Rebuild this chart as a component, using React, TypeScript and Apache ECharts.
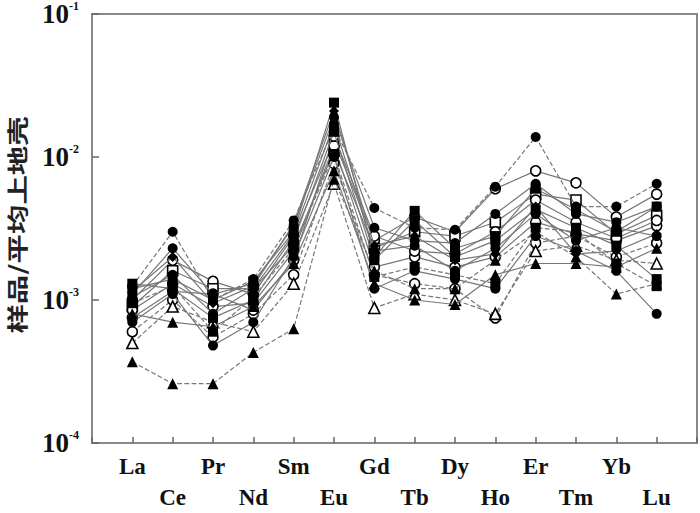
import React, { useEffect, useRef } from "react";
import * as echarts from "echarts";

const categories = ["La", "Ce", "Pr", "Nd", "Sm", "Eu", "Gd", "Tb", "Dy", "Ho", "Er", "Tm", "Yb", "Lu"];
const yTicks = [0.0001, 0.001, 0.01, 0.1];
const yAxisTitle = "样品/平均上地壳";

// sample / average upper crust values (La..Lu)
const s1 = [1.25e-3, 3.0e-3, 1.0e-3, 1.4e-3, 3.6e-3, 1.6e-2, 4.4e-3, 3.2e-3, 3.1e-3, 6.2e-3, 1.38e-2, 4.5e-3, 4.5e-3, 6.5e-3];
const s2 = [1.1e-3, 2.3e-3, 1.1e-3, 1.3e-3, 3.3e-3, 1.9e-2, 3.2e-3, 2.6e-3, 2.5e-3, 4.0e-3, 6.5e-3, 4.0e-3, 3.5e-3, 4.5e-3];
const s3 = [1.2e-3, 1.4e-3, 1.0e-3, 1.35e-3, 3.0e-3, 2.4e-2, 2.0e-3, 4.2e-3, 2.3e-3, 2.8e-3, 6.0e-3, 4.3e-3, 3.0e-3, 4.5e-3];
const s4 = [1.0e-3, 1.9e-3, 1.35e-3, 1.1e-3, 2.8e-3, 1.3e-2, 2.6e-3, 3.8e-3, 3.0e-3, 6.0e-3, 8.0e-3, 6.6e-3, 3.8e-3, 5.5e-3];
const s5 = [9.0e-4, 1.6e-3, 1.2e-3, 1.2e-3, 2.4e-3, 1.1e-2, 2.3e-3, 3.0e-3, 2.8e-3, 3.5e-3, 5.5e-3, 5.0e-3, 2.9e-3, 3.9e-3];
const s6 = [8.0e-4, 7.0e-4, 6.5e-4, 9.0e-4, 1.8e-3, 8.0e-3, 1.3e-3, 1.0e-3, 9.3e-4, 1.5e-3, 1.8e-3, 1.8e-3, 1.7e-3, 2.3e-3];
const s7 = [3.7e-4, 2.6e-4, 2.6e-4, 4.3e-4, 6.3e-4, 7.0e-3, 1.6e-3, 1.2e-3, 1.2e-3, 1.9e-3, 3.0e-3, 2.0e-3, 1.1e-3, 1.3e-3];
const s8 = [6.0e-4, 1.0e-3, 5.5e-4, 8.0e-4, 1.5e-3, 9.0e-3, 1.5e-3, 1.3e-3, 1.2e-3, 7.5e-4, 2.5e-3, 2.8e-3, 2.0e-3, 2.5e-3];
const s9 = [7.0e-4, 1.1e-3, 4.8e-4, 7.0e-4, 2.0e-3, 1.0e-2, 1.2e-3, 1.6e-3, 1.4e-3, 1.2e-3, 2.8e-3, 2.2e-3, 1.6e-3, 8.0e-4];
const s10 = [1.3e-3, 1.2e-3, 7.5e-4, 1.0e-3, 2.6e-3, 1.5e-2, 1.9e-3, 3.6e-3, 2.0e-3, 2.6e-3, 4.3e-3, 3.2e-3, 2.4e-3, 1.4e-3];
const s11 = [5.0e-4, 9.0e-4, 7.0e-4, 6.0e-4, 1.3e-3, 6.5e-3, 8.8e-4, 1.1e-3, 1.0e-3, 8.0e-4, 2.2e-3, 2.4e-3, 1.9e-3, 1.8e-3];
const s12 = [8.5e-4, 1.3e-3, 9.0e-4, 9.5e-4, 2.2e-3, 1.2e-2, 1.7e-3, 2.0e-3, 1.7e-3, 2.0e-3, 3.5e-3, 2.9e-3, 2.6e-3, 3.3e-3];
const s13 = [1.05e-3, 1.5e-3, 8.0e-4, 1.2e-3, 2.9e-3, 1.7e-2, 2.2e-3, 2.4e-3, 1.6e-3, 2.3e-3, 4.0e-3, 2.6e-3, 3.2e-3, 2.8e-3];
const s14 = [9.5e-4, 1.25e-3, 6.0e-4, 1.05e-3, 2.3e-3, 1.05e-2, 1.45e-3, 1.7e-3, 1.5e-3, 1.3e-3, 3.2e-3, 3.0e-3, 1.8e-3, 1.25e-3];
const s15 = [7.5e-4, 1.15e-3, 1.1e-3, 8.5e-4, 1.9e-3, 1.4e-2, 2.8e-3, 2.2e-3, 2.1e-3, 3.0e-3, 5.0e-3, 3.5e-3, 2.7e-3, 3.6e-3];
const s16 = [1.15e-3, 2.0e-3, 9.5e-4, 1.25e-3, 3.4e-3, 2.1e-2, 2.4e-3, 2.8e-3, 1.9e-3, 2.1e-3, 4.5e-3, 2.1e-3, 2.2e-3, 2.9e-3];

type Mk = { data: number[]; symbol: string; filled: boolean; dashed: boolean };
const samples: Mk[] = [
  { data: s1, symbol: "circle", filled: true, dashed: true },
  { data: s2, symbol: "circle", filled: true, dashed: false },
  { data: s3, symbol: "rect", filled: true, dashed: false },
  { data: s4, symbol: "circle", filled: false, dashed: false },
  { data: s5, symbol: "rect", filled: false, dashed: false },
  { data: s6, symbol: "triangle", filled: true, dashed: false },
  { data: s7, symbol: "triangle", filled: true, dashed: true },
  { data: s8, symbol: "circle", filled: false, dashed: true },
  { data: s9, symbol: "circle", filled: true, dashed: false },
  { data: s10, symbol: "rect", filled: true, dashed: false },
  { data: s11, symbol: "triangle", filled: false, dashed: true },
  { data: s12, symbol: "circle", filled: false, dashed: false },
  { data: s13, symbol: "circle", filled: true, dashed: false },
  { data: s14, symbol: "rect", filled: true, dashed: true },
  { data: s15, symbol: "circle", filled: false, dashed: false },
  { data: s16, symbol: "diamond", filled: true, dashed: false },
];

export default function App() {
  const ref = useRef<HTMLDivElement>(null);
  useEffect(() => {
    if (!ref.current) return;
    const chart = echarts.init(ref.current, null, { renderer: "svg" });
    const serif = "'Liberation Serif', 'DejaVu Serif', serif";
    chart.setOption({
      animation: false,
      backgroundColor: "#fff",
      grid: {
        left: 92,
        right: 3,
        top: 10,
        bottom: 70,
        show: true,
        borderColor: "#888",
        borderWidth: 2,
        backgroundColor: "transparent",
      },
      xAxis: {
        type: "value",
        min: 0,
        max: 15,
        interval: 1,
        splitLine: { show: false },
        axisLine: { show: true, lineStyle: { color: "#888", width: 2 } },
        axisTick: {
          show: true,
          inside: true,
          length: 6,
          lineStyle: { color: "#666", width: 1.5 },
        },
        axisLabel: {
          margin: 8,
          fontFamily: serif,
          fontWeight: "bold",
          fontSize: 23,
          color: "#111",
          lineHeight: 31,
          showMinLabel: true,
          showMaxLabel: true,
          formatter: (v: number) => {
            const i = Math.round(v) - 1;
            if (i < 0 || i >= categories.length) return "";
            return i % 2 === 0 ? categories[i] : "\n" + categories[i];
          },
        },
      },
      yAxis: {
        type: "log",
        logBase: 10,
        min: yTicks[0],
        max: yTicks[yTicks.length - 1],
        splitLine: { show: false },
        axisLine: { show: true, lineStyle: { color: "#888", width: 2 } },
        axisTick: {
          show: true,
          inside: true,
          length: 7,
          lineStyle: { color: "#666", width: 1.5 },
        },
        axisLabel: {
          margin: 13,
          formatter: (v: number) => {
            const e = Math.round(Math.log10(v));
            return "{b|10}{s|" + e + "}";
          },
          rich: {
            b: {
              fontFamily: serif,
              fontWeight: "bold",
              fontSize: 27,
              color: "#111",
              lineHeight: 28,
            },
            s: {
              fontFamily: serif,
              fontWeight: "bold",
              fontSize: 12,
              color: "#111",
              lineHeight: 14,
              verticalAlign: "top",
            },
          },
        },
      },
      graphic: [
        {
          type: "text",
          x: 16,
          y: 225,
          rotation: Math.PI / 2,
          scaleX: 1.4,
          style: {
            text: yAxisTitle,
            font: "bold 21px 'Noto Sans CJK SC', sans-serif",
            fill: "#222",
            textAlign: "center",
            textVerticalAlign: "middle",
          },
        },
      ],
      series: samples.map((s, k) => ({
        name: "S" + (k + 1),
        type: "line",
        data: s.data.map((v, i) => [i + 1, v]),
        symbol: s.symbol,
        symbolSize: s.symbol === "triangle" ? 11 : 10,
        z: 2 + (s.filled ? 1 : 0),
        lineStyle: {
          color: "#777",
          width: 1.2,
          type: s.dashed ? "dashed" : "solid",
        },
        itemStyle: {
          color: s.filled ? "#000" : "#fff",
          borderColor: "#000",
          borderWidth: s.filled ? 0 : 1.6,
        },
      })),
    });
    return () => chart.dispose();
  }, []);
  return (
    <div
      ref={ref}
      style={{ position: "fixed", left: 0, top: 0, width: 700, height: 513 }}
    />
  );
}
